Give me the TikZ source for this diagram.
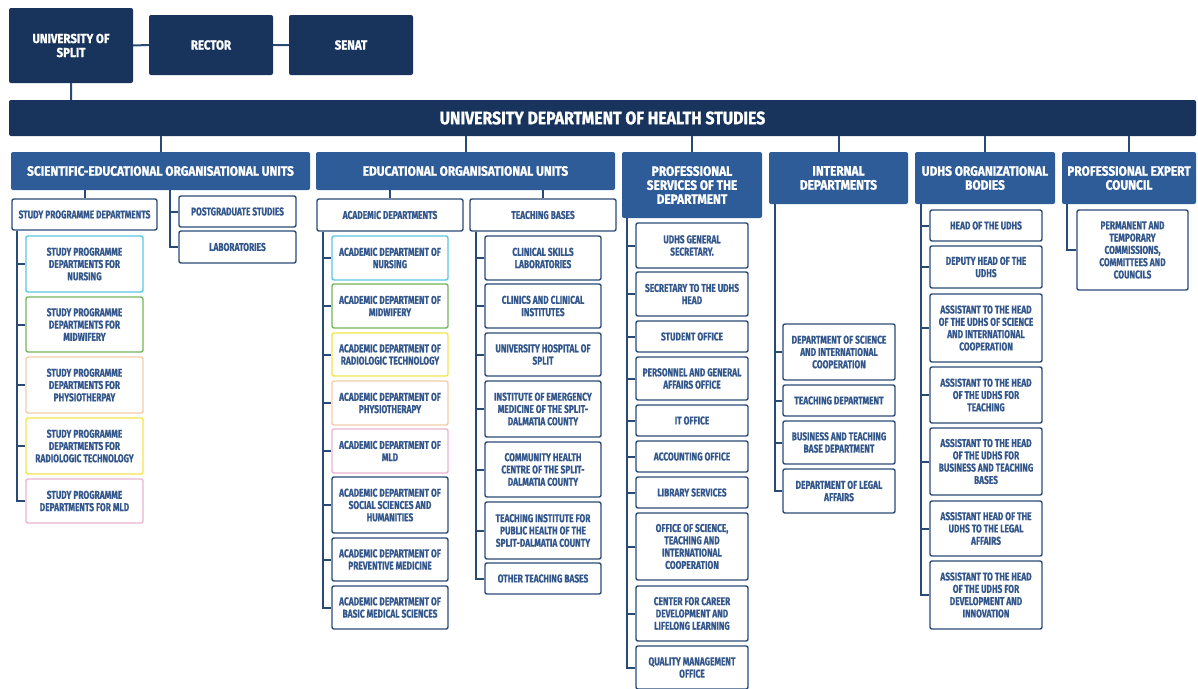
\documentclass[tikz,border=0pt]{standalone}
\usepackage{fontspec}
\newfontfamily\orgfont{Fira Sans}[FakeStretch=0.74,BoldFeatures={FakeBold=0.6}]
\newfontfamily\headfont{Fira Sans}[FakeStretch=0.88,BoldFeatures={FakeBold=1.2}]
\definecolor{navy}{HTML}{18345C}
\definecolor{headblue}{HTML}{2E5C99}
\definecolor{linecol}{HTML}{2A4A76}
\definecolor{textblue}{HTML}{34588C}
\definecolor{nursecol}{HTML}{5CC6E2}
\definecolor{midcol}{HTML}{74B55C}
\definecolor{physcol}{HTML}{F4CDA8}
\definecolor{radcol}{HTML}{F0E64C}
\definecolor{mldcol}{HTML}{EAB4CF}
\begin{document}
\begin{tikzpicture}
[x=1pt,y=-1pt,
  topbox/.style={shape=rectangle,rounded corners=2pt,fill=navy,text=white,align=center,inner sep=0pt,%
    font=\headfont\bfseries\fontsize{13}{14}\selectfont},
  headbox/.style={shape=rectangle,rounded corners=2pt,fill=headblue,text=white,align=center,inner sep=0pt,%
    font=\headfont\bfseries\fontsize{13.5}{14}\selectfont},
  unitbox/.style={shape=rectangle,rounded corners=2pt,draw=linecol,line width=1.4pt,fill=white,%
    text=textblue,align=center,inner sep=0pt,font=\orgfont\bfseries\fontsize{11.3}{12.3}\selectfont},
  link/.style={draw=linecol,line width=2pt}]
\useasboundingbox (0,0) rectangle (1198,688);
% university, rector, senate
\node (uos) at (71,45.5) [topbox,minimum width=124pt,minimum height=75pt] {UNIVERSITY OF\\SPLIT};
\node (rector) at (211,45) [topbox,minimum width=124pt,minimum height=60pt] {RECTOR};
\node (senat) at (351,45) [topbox,minimum width=124pt,minimum height=60pt] {SENAT};
\node (udhs) at (602.5,118) [topbox,minimum width=1187pt,minimum height=36pt,%
  font=\headfont\bfseries\fontsize{18}{20}\selectfont] {UNIVERSITY DEPARTMENT OF HEALTH STUDIES};
% organisational units
\node (se) at (160.5,171) [headbox,minimum width=299pt,minimum height=38pt] {SCIENTIFIC-EDUCATIONAL ORGANISATIONAL UNITS};
\node (edu) at (465.5,171) [headbox,minimum width=299pt,minimum height=38pt] {EDUCATIONAL ORGANISATIONAL UNITS};
\node (prof) at (692,185) [headbox,minimum width=140pt,minimum height=66pt] {PROFESSIONAL\\SERVICES OF THE\\DEPARTMENT};
\node (intd) at (838.5,178) [headbox,minimum width=139pt,minimum height=52pt] {INTERNAL\\DEPARTMENTS};
\node (org) at (985,178) [headbox,minimum width=140pt,minimum height=52pt] {UDHS ORGANIZATIONAL\\BODIES};
\node (pec) at (1129,178) [headbox,minimum width=134pt,minimum height=52pt] {PROFESSIONAL EXPERT\\COUNCIL};
% scientific-educational units
\node (spd) at (84.5,214.5) [unitbox,minimum width=145pt,minimum height=31pt] {STUDY PROGRAMME DEPARTMENTS};
\node (spn) at (84.5,264) [unitbox,draw=nursecol,minimum width=117pt,minimum height=56pt] {STUDY PROGRAMME\\DEPARTMENTS FOR\\NURSING};
\node (spm) at (84.5,324.5) [unitbox,draw=midcol,minimum width=117pt,minimum height=55pt] {STUDY PROGRAMME\\DEPARTMENTS FOR\\MIDWIFERY};
\node (spp) at (84.5,385) [unitbox,draw=physcol,minimum width=117pt,minimum height=56pt] {STUDY PROGRAMME\\DEPARTMENTS FOR\\PHYSIOTHERPAY};
\node (spr) at (84.5,446) [unitbox,draw=radcol,minimum width=117pt,minimum height=56pt] {STUDY PROGRAMME\\DEPARTMENTS FOR\\RADIOLOGIC TECHNOLOGY};
\node (spl) at (84.5,501) [unitbox,draw=mldcol,minimum width=117pt,minimum height=44pt] {STUDY PROGRAMME\\DEPARTMENTS FOR MLD};
\node (pgs) at (237.5,211.5) [unitbox,minimum width=117pt,minimum height=31pt] {POSTGRADUATE STUDIES};
\node (lab) at (237.5,247) [unitbox,minimum width=117pt,minimum height=32pt] {LABORATORIES};
% educational units
\node (acd) at (390,215) [unitbox,minimum width=146pt,minimum height=32pt] {ACADEMIC DEPARTMENTS};
\node (tb) at (543,215) [unitbox,minimum width=146pt,minimum height=32pt] {TEACHING BASES};
\node (adn) at (390,258) [unitbox,draw=nursecol,minimum width=116pt,minimum height=44pt] {ACADEMIC DEPARTMENT OF\\NURSING};
\node (adm) at (390,306) [unitbox,draw=midcol,minimum width=116pt,minimum height=44pt] {ACADEMIC DEPARTMENT OF\\MIDWIFERY};
\node (adr) at (390,354.5) [unitbox,draw=radcol,minimum width=116pt,minimum height=43pt] {ACADEMIC DEPARTMENT OF\\RADIOLOGIC TECHNOLOGY};
\node (adp) at (390,403) [unitbox,draw=physcol,minimum width=116pt,minimum height=44pt] {ACADEMIC DEPARTMENT OF\\PHYSIOTHERAPY};
\node (adl) at (390,451) [unitbox,draw=mldcol,minimum width=116pt,minimum height=44pt] {ACADEMIC DEPARTMENT OF\\MLD};
\node (ads) at (390,505) [unitbox,minimum width=116pt,minimum height=56pt] {ACADEMIC DEPARTMENT OF\\SOCIAL SCIENCES AND\\HUMANITIES};
\node (adv) at (390,559.5) [unitbox,minimum width=116pt,minimum height=43pt] {ACADEMIC DEPARTMENT OF\\PREVENTIVE MEDICINE};
\node (adb) at (390,607.5) [unitbox,minimum width=116pt,minimum height=43pt] {ACADEMIC DEPARTMENT OF\\BASIC MEDICAL SCIENCES};
\node (tcs) at (543,258) [unitbox,minimum width=116pt,minimum height=44pt] {CLINICAL SKILLS\\LABORATORIES};
\node (tcl) at (543,306) [unitbox,minimum width=116pt,minimum height=44pt] {CLINICS AND CLINICAL\\INSTITUTES};
\node (tuh) at (543,354.5) [unitbox,minimum width=116pt,minimum height=43pt] {UNIVERSITY HOSPITAL OF\\SPLIT};
\node (tie) at (543,409) [unitbox,minimum width=116pt,minimum height=56pt] {INSTITUTE OF EMERGENCY\\MEDICINE OF THE SPLIT-\\DALMATIA COUNTY};
\node (tch) at (543,469.5) [unitbox,minimum width=116pt,minimum height=55pt] {COMMUNITY HEALTH\\CENTRE OF THE SPLIT-\\DALMATIA COUNTY};
\node (tti) at (543,530.5) [unitbox,minimum width=116pt,minimum height=57pt] {TEACHING INSTITUTE FOR\\PUBLIC HEALTH OF THE\\SPLIT-DALMATIA COUNTY};
\node (tot) at (543,578.5) [unitbox,minimum width=116pt,minimum height=31pt] {OTHER TEACHING BASES};
% professional services
\node (ps1) at (692,245.5) [unitbox,minimum width=112pt,minimum height=45pt] {UDHS GENERAL\\SECRETARY.};
\node (ps2) at (692,294) [unitbox,minimum width=112pt,minimum height=44pt] {SECRETARY TO THE UDHS\\HEAD};
\node (ps3) at (692,336.5) [unitbox,minimum width=112pt,minimum height=31pt] {STUDENT OFFICE};
\node (ps4) at (692,378.5) [unitbox,minimum width=112pt,minimum height=43pt] {PERSONNEL AND GENERAL\\AFFAIRS OFFICE};
\node (ps5) at (692,420.5) [unitbox,minimum width=112pt,minimum height=31pt] {IT OFFICE};
\node (ps6) at (692,456.5) [unitbox,minimum width=112pt,minimum height=31pt] {ACCOUNTING OFFICE};
\node (ps7) at (692,492.5) [unitbox,minimum width=112pt,minimum height=31pt] {LIBRARY SERVICES};
\node (ps8) at (692,546.5) [unitbox,minimum width=112pt,minimum height=67pt] {OFFICE OF SCIENCE,\\TEACHING AND\\INTERNATIONAL\\COOPERATION};
\node (ps9) at (692,613.5) [unitbox,minimum width=112pt,minimum height=55pt] {CENTER FOR CAREER\\DEVELOPMENT AND\\LIFELONG LEARNING};
\node (ps10) at (692,667.5) [unitbox,minimum width=112pt,minimum height=43pt] {QUALITY MANAGEMENT\\OFFICE};
% internal departments
\node (id1) at (839,352) [unitbox,minimum width=112pt,minimum height=56pt] {DEPARTMENT OF SCIENCE\\AND INTERNATIONAL\\COOPERATION};
\node (id2) at (839,400.5) [unitbox,minimum width=112pt,minimum height=31pt] {TEACHING DEPARTMENT};
\node (id3) at (839,442.5) [unitbox,minimum width=112pt,minimum height=43pt] {BUSINESS AND TEACHING\\BASE DEPARTMENT};
\node (id4) at (839,491) [unitbox,minimum width=112pt,minimum height=44pt] {DEPARTMENT OF LEGAL\\AFFAIRS};
% organizational bodies
\node (ob1) at (986,225.5) [unitbox,minimum width=112pt,minimum height=31pt] {HEAD OF THE UDHS};
\node (ob2) at (986,267) [unitbox,minimum width=112pt,minimum height=42pt] {DEPUTY HEAD OF THE\\UDHS};
\node (ob3) at (986,328) [unitbox,minimum width=112pt,minimum height=68pt] {ASSISTANT TO THE HEAD\\OF THE UDHS OF SCIENCE\\AND INTERNATIONAL\\COOPERATION};
\node (ob4) at (986,395) [unitbox,minimum width=112pt,minimum height=56pt] {ASSISTANT TO THE HEAD\\OF THE UDHS FOR\\TEACHING};
\node (ob5) at (986,461.5) [unitbox,minimum width=112pt,minimum height=67pt] {ASSISTANT TO THE HEAD\\OF THE UDHS FOR\\BUSINESS AND TEACHING\\BASES};
\node (ob6) at (986,528.5) [unitbox,minimum width=112pt,minimum height=55pt] {ASSISTANT HEAD OF THE\\UDHS TO THE LEGAL\\AFFAIRS};
\node (ob7) at (986,595) [unitbox,minimum width=112pt,minimum height=68pt] {ASSISTANT TO THE HEAD\\OF THE UDHS FOR\\DEVELOPMENT AND\\INNOVATION};
% expert council
\node (pc1) at (1132.5,250) [unitbox,minimum width=111pt,minimum height=80pt] {PERMANENT AND\\TEMPORARY\\COMMISSIONS,\\COMMITTEES AND\\COUNCILS};
% spines
\coordinate (spdx) at (17,0);
\coordinate (sex) at (170,0);
\coordinate (acdx) at (323,0);
\coordinate (tbx) at (476,0);
\coordinate (profx) at (627,0);
\coordinate (intdx) at (775,0);
\coordinate (orgx) at (921,0);
\coordinate (pecx) at (1067,0);
% edges
\path[link]
(uos) -- (rector)
(rector) -- (senat)
(uos.south) -- (uos.south |- udhs.north);
\foreach \u in {se,edu,prof,intd,org,pec}
  \draw[link] (\u.north) -- (\u.north |- udhs.south);
\draw[link] (spd.north) -- (spd.north |- se.south);
\draw[link] (acd.north) -- (acd.north |- edu.south);
\draw[link] (tb.north) -- (tb.north |- edu.south);
\foreach \c in {spn,spm,spp,spr,spl}
  \draw[link] (spd.south -| spdx) |- (\c.west);
\foreach \c in {pgs,lab}
  \draw[link] (se.south -| sex) |- (\c.west);
\foreach \c in {adn,adm,adr,adp,adl,ads,adv,adb}
  \draw[link] (acd.south -| acdx) |- (\c.west);
\foreach \c in {tcs,tcl,tuh,tie,tch,tti,tot}
  \draw[link] (tb.south -| tbx) |- (\c.west);
\foreach \c in {ps1,ps2,ps3,ps4,ps5,ps6,ps7,ps8,ps9,ps10}
  \draw[link] (prof.south -| profx) |- (\c.west);
\foreach \c in {id1,id2,id3,id4}
  \draw[link] (intd.south -| intdx) |- (\c.west);
\foreach \c in {ob1,ob2,ob3,ob4,ob5,ob6,ob7}
  \draw[link] (org.south -| orgx) |- (\c.west);
\draw[link] (pec.south -| pecx) |- (pc1.west);
\end{tikzpicture}
\end{document}
